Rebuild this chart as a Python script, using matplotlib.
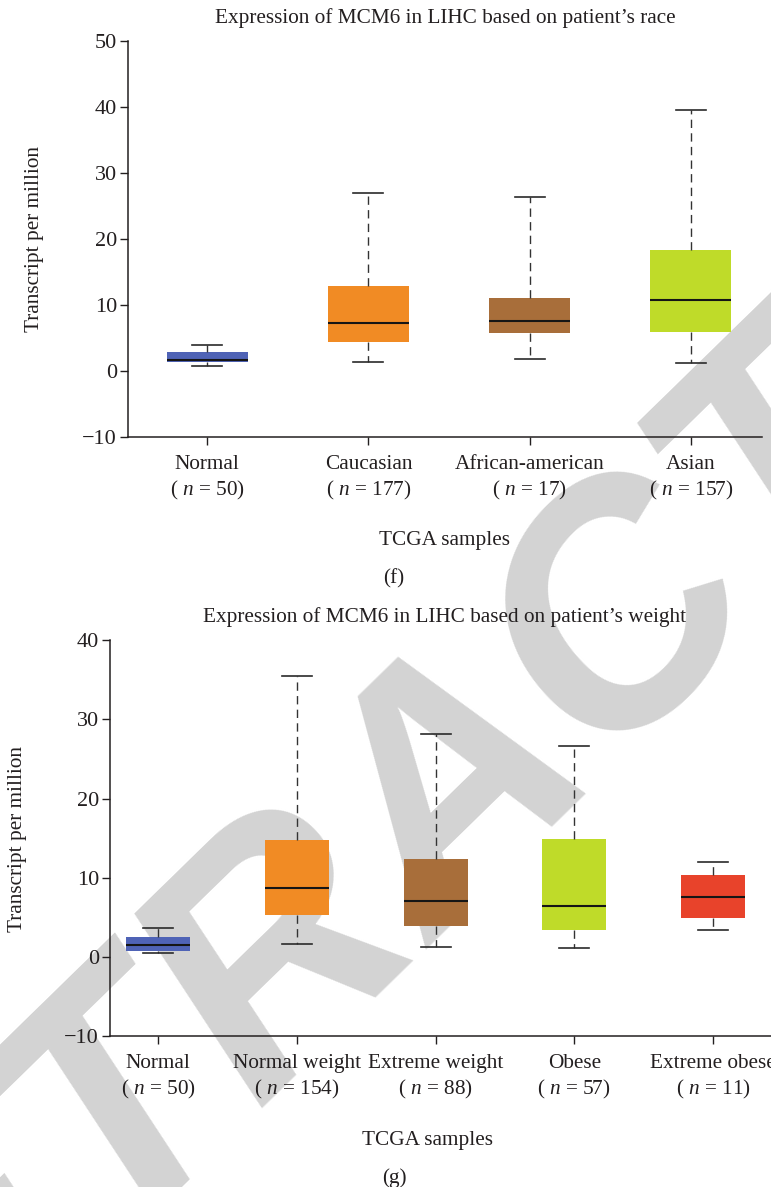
import matplotlib
matplotlib.use("Agg")
import matplotlib.pyplot as plt

# Figure size in pixels (dpi 100), used to place things where the reference has them.
W, H = 771, 1187
INK = "#231f20"

plt.rcParams["font.family"] = ["Liberation Serif", "DejaVu Serif"]
plt.rcParams["mathtext.fontset"] = "custom"
plt.rcParams["mathtext.rm"] = "Liberation Serif"
plt.rcParams["mathtext.it"] = "Liberation Serif:italic"
plt.rcParams["text.color"] = INK
plt.rcParams["axes.edgecolor"] = INK
plt.rcParams["xtick.color"] = INK
plt.rcParams["ytick.color"] = INK

# --- panel (f): race -------------------------------------------------------
race_groups = ["Normal", "Caucasian", "African-american", "Asian"]
race_n = [50, 177, 17, 157]
race_lo = [0.75, 1.3, 1.8, 1.25]
race_q1 = [1.4, 4.4, 5.8, 5.95]
race_med = [1.7, 7.2, 7.5, 10.75]
race_q3 = [2.9, 12.9, 11.05, 18.3]
race_hi = [3.9, 27.0, 26.4, 39.5]
race_colors = ["#4f63b6", "#f18b24", "#a86e3a", "#bfdb29"]

# --- panel (g): weight -----------------------------------------------------
weight_groups = ["Normal", "Normal weight", "Extreme weight", "Obese", "Extreme obese"]
weight_n = [50, 154, 88, 57, 11]
weight_lo = [0.47, 1.68, 1.26, 1.17, 3.44]
weight_q1 = [0.76, 5.33, 3.95, 3.44, 4.96]
weight_med = [1.55, 8.66, 7.06, 6.43, 7.57]
weight_q3 = [2.52, 14.75, 12.36, 14.88, 10.34]
weight_hi = [3.66, 35.5, 28.1, 26.65, 12.02]
weight_colors = ["#4f63b6", "#f18b24", "#a86e3a", "#bfdb29", "#e8432b"]

FS = 15.3


def fx(px):
    return px / W


def fy(py):
    return 1 - py / H


def add_axes_px(fig, left, top, right, bottom):
    return fig.add_axes([fx(left), fy(bottom), (right - left) / W, (bottom - top) / H])


def draw_panel(ax, groups, n, lo, q1, med, q3, hi, colors, box_w, cap_w,
               xlim, ylim, yticks):
    stats = [dict(whislo=a, q1=b, med=c, q3=d, whishi=e, fliers=[])
             for a, b, c, d, e in zip(lo, q1, med, q3, hi)]
    pos = list(range(1, len(groups) + 1))
    bp = ax.bxp(stats, positions=pos, widths=box_w, capwidths=cap_w,
                patch_artist=True, showfliers=False,
                boxprops=dict(linewidth=0),
                whiskerprops=dict(color="#333333", linewidth=1.0,
                                  linestyle=(0, (6, 3.8))),
                capprops=dict(color="#2a2a2a", linewidth=1.2),
                medianprops=dict(color="#151515", linewidth=1.5))
    for box, c in zip(bp["boxes"], colors):
        box.set_facecolor(c)
        box.set_edgecolor(c)

    ax.set_facecolor("none")
    ax.set_xlim(*xlim)
    ax.set_ylim(*ylim)
    ax.set_yticks(yticks)
    ax.set_xticks(pos)
    ax.set_xticklabels([f"{g}\n( $n$ = {k})" for g, k in zip(groups, n)],
                       fontsize=FS, linespacing=1.3)
    ax.tick_params(axis="y", labelsize=16, length=6, width=1.0, pad=2)
    ax.tick_params(axis="x", length=6, width=1.0, pad=7)
    for side in ("top", "right"):
        ax.spines[side].set_visible(False)
    for side in ("left", "bottom"):
        ax.spines[side].set_linewidth(1.1)


fig = plt.figure(figsize=(W / 100, H / 100), dpi=100)

# big grey watermark behind everything
fig.text(fx(516), fy(856), "RETRACTED", family="Liberation Sans", weight="bold",
         style="italic", fontsize=240, color="#d3d3d3", rotation=44.3,
         rotation_mode="anchor", ha="center", va="baseline", zorder=-1)

# top panel: positions 1..4 sit at x = 207, 368, 529, 691 px
ax1 = add_axes_px(fig, 128, 40.7, 762, 437)
draw_panel(ax1, race_groups, race_n, race_lo, race_q1, race_med, race_q3, race_hi,
           race_colors, 0.5, 0.186, (0.508, 4.442), (-10, 50), range(-10, 51, 10))

# bottom panel: runs past the right edge like the cropped reference
ax2 = add_axes_px(fig, 110, 640, 900, 1036.3)
unit = 138.7
draw_panel(ax2, weight_groups, weight_n, weight_lo, weight_q1, weight_med, weight_q3,
           weight_hi, weight_colors, 0.46, 0.216,
           (0.652, 0.652 + 790 / unit), (-10, 40), range(-10, 41, 10))

# titles, axis labels and panel letters
fig.text(fx(445), fy(22.7), "Expression of MCM6 in LIHC based on patient’s race",
         fontsize=FS, ha="center", va="baseline")
fig.text(fx(445), fy(621.7), "Expression of MCM6 in LIHC based on patient’s weight",
         fontsize=FS, ha="center", va="baseline")

fig.text(fx(44), fy(238.5), "Transcript per million", fontsize=FS, rotation=90,
         ha="right", va="center")
fig.text(fx(27.5), fy(838.5), "Transcript per million", fontsize=FS, rotation=90,
         ha="right", va="center")

fig.text(fx(445), fy(545), "TCGA samples", fontsize=FS, ha="center", va="baseline")
fig.text(fx(428), fy(1145), "TCGA samples", fontsize=FS, ha="center", va="baseline")

fig.text(fx(394), fy(583), "(f)", fontsize=FS, ha="center", va="baseline")
fig.text(fx(394), fy(1182.5), "(g)", fontsize=FS, ha="center", va="baseline")

fig.savefig("out.png", dpi=100)
